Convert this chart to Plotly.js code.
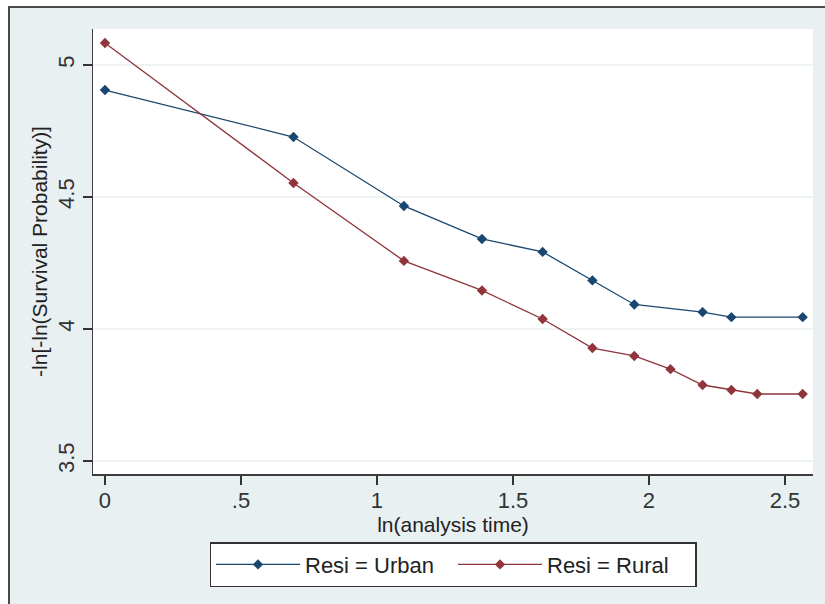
<!DOCTYPE html>
<html>
<head>
<meta charset="utf-8">
<script src="https://cdn.plot.ly/plotly-3.0.1.min.js"></script>
<style>
  html, body { margin: 0; padding: 0; background: #ffffff; width: 825px; height: 604px; overflow: hidden; }
  #frame { position: absolute; left: 8px; top: 6px; width: 817px; height: 598px;
           border-top: 2px solid #4a4a4a; border-left: 2px solid #4a4a4a; box-sizing: border-box; }
  #chart { position: absolute; left: 10px; top: 8px; width: 815px; height: 596px; }
</style>
</head>
<body>
<div id="chart"></div>
<div id="frame"></div>
<script>
// ln(analysis time) values
const urbanX = [0, 0.693, 1.099, 1.386, 1.609, 1.792, 1.946, 2.197, 2.303, 2.565];
const urbanY = [4.905, 4.727, 4.466, 4.341, 4.292, 4.184, 4.093, 4.064, 4.045, 4.045];
const ruralX = [0, 0.693, 1.099, 1.386, 1.609, 1.792, 1.946, 2.079, 2.197, 2.303, 2.398, 2.565];
const ruralY = [5.083, 4.553, 4.258, 4.146, 4.038, 3.928, 3.898, 3.848, 3.788, 3.769, 3.754, 3.754];
const seriesNames = ["Resi = Urban", "Resi = Rural"];
const xTickVals = [0, 0.5, 1, 1.5, 2, 2.5];
const xTickText = ["0", ".5", "1", "1.5", "2", "2.5"];
const yTickVals = [3.5, 4, 4.5, 5];
const yTickText = ["3.5", "4", "4.5", "5"];

const font = "Liberation Sans, Arial, sans-serif";
const navy = "#1a476f", maroon = "#90353b";

const traces = [
  { x: urbanX, y: urbanY, name: seriesNames[0], type: "scatter", mode: "lines+markers",
    line: { color: navy, width: 1.3 },
    marker: { symbol: "diamond", size: 8, color: navy } },
  { x: ruralX, y: ruralY, name: seriesNames[1], type: "scatter", mode: "lines+markers",
    line: { color: maroon, width: 1.3 },
    marker: { symbol: "diamond", size: 8, color: maroon } }
];

const layout = {
  width: 815, height: 596,
  margin: { l: 83, r: 12, t: 21, b: 130 },
  paper_bgcolor: "#e8f0f1",
  plot_bgcolor: "#ffffff",
  font: { family: font, size: 21, color: "#222" },
  showlegend: true,
  legend: {
    orientation: "h", x: 0.5, xanchor: "center", y: -0.153, yanchor: "top",
    bgcolor: "#ffffff", bordercolor: "#333333", borderwidth: 1.5,
    font: { family: font, size: 22, color: "#222" },
    itemwidth: 84,
    entrywidth: 143, entrywidthmode: "pixels"
  },
  xaxis: {
    range: [-0.044, 2.603],
    tickvals: xTickVals, ticktext: xTickText,
    ticks: "outside", ticklen: 9, tickwidth: 1.5, tickcolor: "#333",
    ticklabelstandoff: -3,
    showline: true, linecolor: "#3c3c3c", linewidth: 1.5,
    showgrid: false, zeroline: false,
    tickfont: { family: font, size: 22, color: "#333" },
    title: { text: "ln(analysis time)", font: { family: font, size: 21, color: "#222" }, standoff: 0 },
    automargin: true
  },
  yaxis: {
    range: [3.451, 5.136],
    tickvals: yTickVals, ticktext: yTickText,
    tickangle: -90,
    ticks: "outside", ticklen: 9, tickwidth: 1.5, tickcolor: "#333",
    showline: true, linecolor: "#3c3c3c", linewidth: 1.5,
    showgrid: true, gridcolor: "#edf2f3", gridwidth: 1.5, zeroline: false,
    tickfont: { family: font, size: 22, color: "#333" },
    title: { text: "-ln[-ln(Survival Probability)]", font: { family: font, size: 21, color: "#222" }, standoff: 0 },
    automargin: true
  }
};

Plotly.newPlot("chart", traces, layout, { displayModeBar: false, staticPlot: true });
</script>
</body>
</html>
